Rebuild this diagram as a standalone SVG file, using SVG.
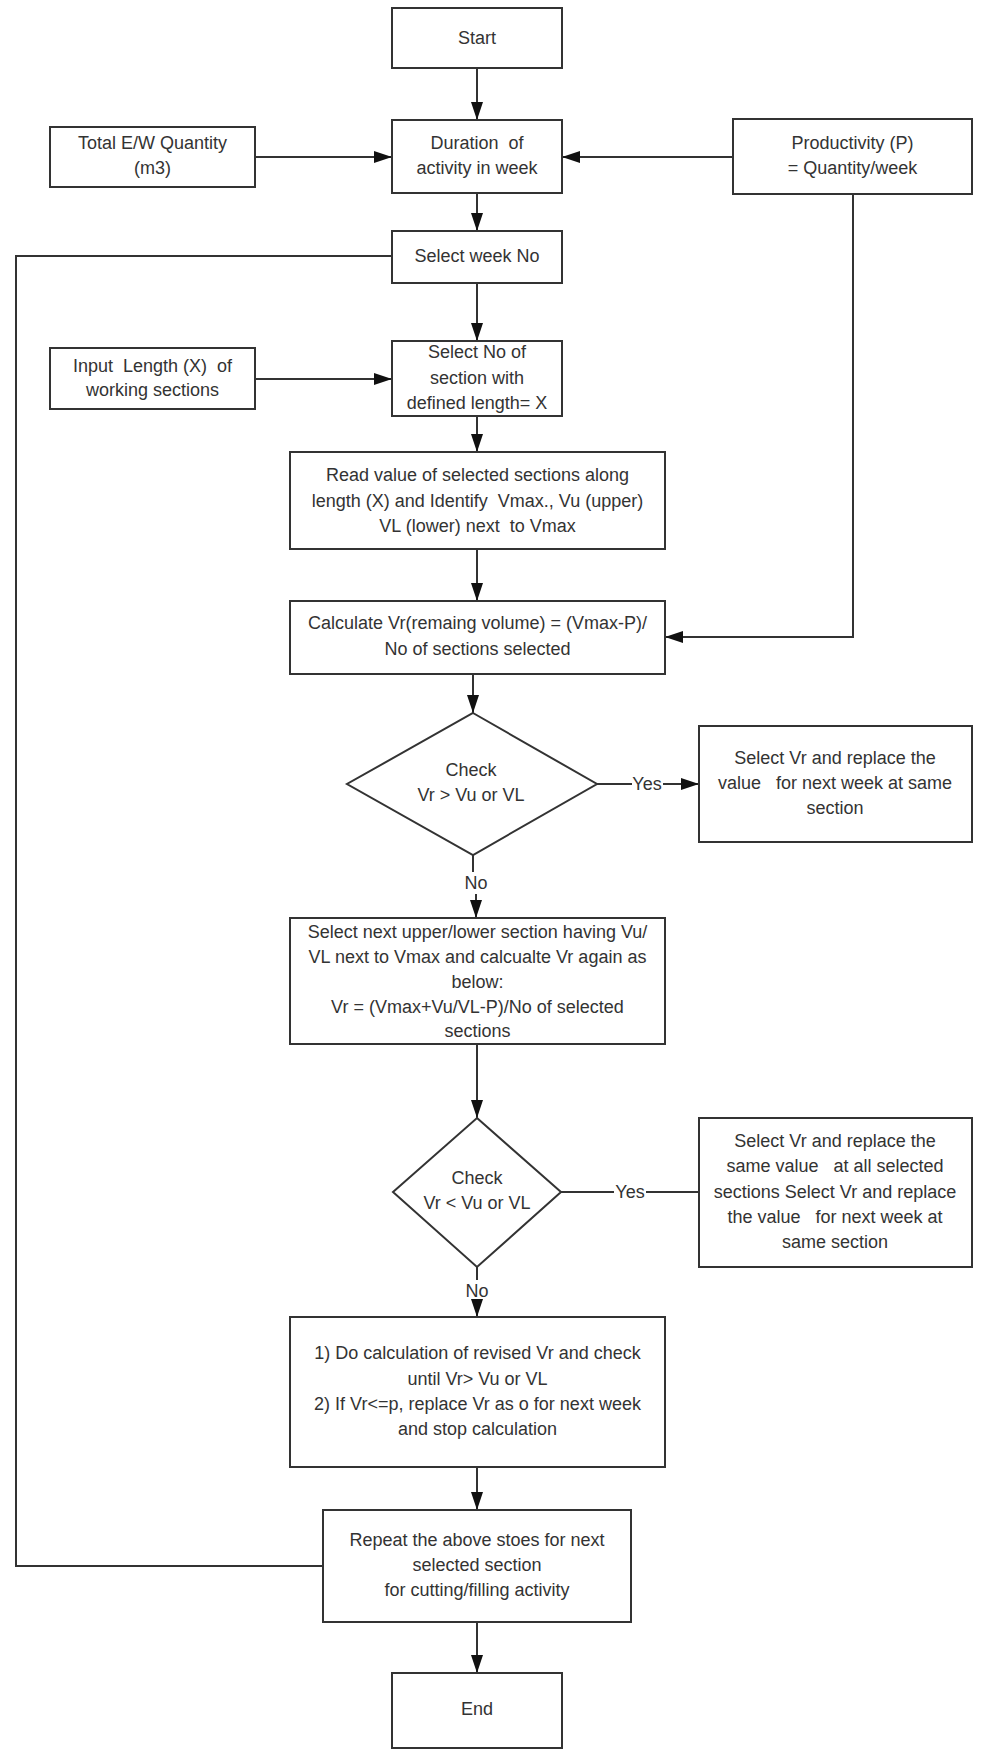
<svg xmlns="http://www.w3.org/2000/svg" width="1008" height="1762" viewBox="0 0 1008 1762">
<defs>
<marker id="arr" markerUnits="userSpaceOnUse" viewBox="0 0 18 12" refX="18" refY="6" markerWidth="18" markerHeight="12" orient="auto">
<path d="M0,0 L18,6 L0,12 Z" fill="#111"/>
</marker>
</defs>
<style>
.box{fill:#fff;stroke:#333;stroke-width:2}
.sh{fill:none;stroke:#aaa;stroke-width:2}
.t{font-family:"Liberation Sans",Arial,sans-serif;font-size:18px;fill:#333;text-anchor:middle}
.c{fill:none;stroke:#333;stroke-width:2}
.a{marker-end:url(#arr)}
</style>
<rect width="1008" height="1762" fill="#fff"/>
<g id="connectors">
<path class="c a" d="M477,68 V120"/>
<path class="c a" d="M255,157 H392"/>
<path class="c a" d="M733,157 H562"/>
<path class="c a" d="M477,193 V231"/>
<path class="c a" d="M477,283 V341"/>
<path class="c a" d="M255,379 H392"/>
<path class="c a" d="M477,416 V452"/>
<path class="c a" d="M477,549 V601"/>
<path class="c a" d="M853,194 V637 H665"/>
<path class="c a" d="M473,674 V713"/>
<path class="c" d="M596,784 H632"/>
<path class="c a" d="M663,784 H699"/>
<text class="t" x="647" y="790">Yes</text>
<path class="c" d="M473,855 V872"/>
<path class="c a" d="M476,894 V918"/>
<text class="t" x="476" y="889">No</text>
<path class="c a" d="M477,1044 V1118"/>
<path class="c" d="M561,1192 H614"/>
<path class="c" d="M646,1192 H699"/>
<text class="t" x="630" y="1198">Yes</text>
<path class="c" d="M477,1267 V1280"/>
<path class="c a" d="M477,1302 V1317"/>
<text class="t" x="477" y="1297">No</text>
<path class="c a" d="M477,1467 V1510"/>
<path class="c a" d="M477,1622 V1673"/>
<path class="c" d="M323,1566 H16 V256 H392"/>
</g>
<g id="start">
<rect class="box" x="392" y="8" width="170" height="60"/>
<text class="t" x="477" y="44">Start</text>
</g>
<g id="duration">
<rect class="box" x="392" y="120" width="170" height="73"/>
<text class="t" x="477" y="149" xml:space="preserve">Duration  of</text>
<text class="t" x="477" y="174">activity in week</text>
</g>
<g id="total">
<rect class="box" x="50" y="127" width="205" height="60"/>
<text class="t" x="152.5" y="149">Total E/W Quantity</text>
<text class="t" x="152.5" y="174">(m3)</text>
</g>
<g id="productivity">
<rect class="box" x="733" y="119" width="239" height="75"/>
<text class="t" x="852.5" y="149">Productivity (P)</text>
<text class="t" x="852.5" y="174">= Quantity/week</text>
</g>
<g id="selectweek">
<rect class="box" x="392" y="231" width="170" height="52"/>
<text class="t" x="477" y="262">Select week No</text>
</g>
<g id="selectsection">
<rect class="box" x="392" y="341" width="170" height="75"/>
<text class="t" x="477" y="358">Select No of</text>
<text class="t" x="477" y="384">section with</text>
<text class="t" x="477" y="409">defined length= X</text>
</g>
<g id="input">
<rect class="box" x="50" y="348" width="205" height="61"/>
<text class="t" x="152.5" y="372" xml:space="preserve">Input  Length (X)  of</text>
<text class="t" x="152.5" y="396">working sections</text>
</g>
<g id="read">
<rect class="box" x="290" y="452" width="375" height="97"/>
<text class="t" x="477.5" y="481">Read value of selected sections along</text>
<text class="t" x="477.5" y="507" xml:space="preserve">length (X) and Identify  Vmax., Vu (upper)</text>
<text class="t" x="477.5" y="532" xml:space="preserve">VL (lower) next  to Vmax</text>
</g>
<g id="calculate">
<rect class="box" x="290" y="601" width="375" height="73"/>
<text class="t" x="477.5" y="629">Calculate Vr(remaing volume) = (Vmax-P)/</text>
<text class="t" x="477.5" y="655">No of sections selected</text>
</g>
<g id="check1">
<polygon class="box" points="473,713 597,784 473,855 347,784"/>
<text class="t" x="471" y="776">Check</text>
<text class="t" x="471" y="801">Vr &gt; Vu or VL</text>
</g>
<g id="yes1">
<rect class="box" x="699" y="726" width="273" height="116"/>
<text class="t" x="835" y="764">Select Vr and replace the</text>
<text class="t" x="835" y="789" xml:space="preserve">value   for next week at same</text>
<text class="t" x="835" y="814">section</text>
</g>
<g id="selectnext">
<rect class="box" x="290" y="918" width="375" height="126"/>
<text class="t" x="477.5" y="938">Select next upper/lower section having Vu/</text>
<text class="t" x="477.5" y="963">VL next to Vmax and calcualte Vr again as</text>
<text class="t" x="477.5" y="988">below:</text>
<text class="t" x="477.5" y="1013">Vr = (Vmax+Vu/VL-P)/No of selected</text>
<text class="t" x="477.5" y="1037">sections</text>
</g>
<g id="check2">
<polygon class="box" points="477,1118 561,1192 477,1267 393,1192"/>
<text class="t" x="477" y="1184">Check</text>
<text class="t" x="477" y="1209">Vr &lt; Vu or VL</text>
</g>
<g id="yes2">
<rect class="box" x="699" y="1118" width="273" height="149"/>
<text class="t" x="835" y="1147">Select Vr and replace the</text>
<text class="t" x="835" y="1172" xml:space="preserve">same value   at all selected</text>
<text class="t" x="835" y="1198">sections Select Vr and replace</text>
<text class="t" x="835" y="1223" xml:space="preserve">the value   for next week at</text>
<text class="t" x="835" y="1248">same section</text>
</g>
<g id="docalc">
<rect class="box" x="290" y="1317" width="375" height="150"/>
<text class="t" x="477.5" y="1359">1) Do calculation of revised Vr and check</text>
<text class="t" x="477.5" y="1385">until Vr&gt; Vu or VL</text>
<text class="t" x="477.5" y="1410">2) If Vr&lt;=p, replace Vr as o for next week</text>
<text class="t" x="477.5" y="1435">and stop calculation</text>
</g>
<g id="repeat">
<rect class="box" x="323" y="1510" width="308" height="112"/>
<text class="t" x="477" y="1546">Repeat the above stoes for next</text>
<text class="t" x="477" y="1571">selected section</text>
<text class="t" x="477" y="1596">for cutting/filling activity</text>
</g>
<g id="end">
<rect class="box" x="392" y="1673" width="170" height="75"/>
<text class="t" x="477" y="1715">End</text>
</g>
</svg>
